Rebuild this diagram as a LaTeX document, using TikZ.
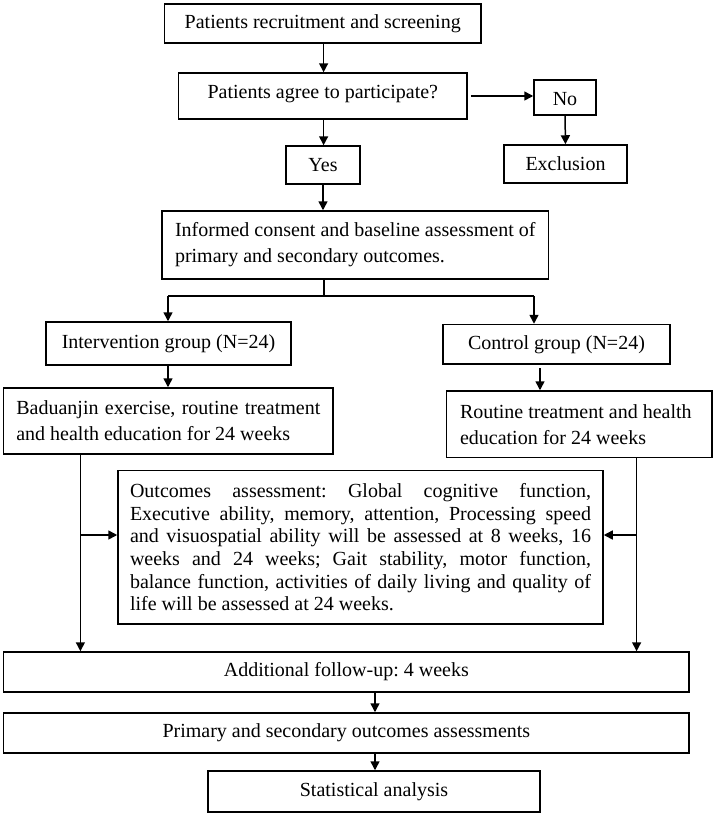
\documentclass[tikz,border=0pt]{standalone}
\usepackage{fontspec}
\setmainfont{Liberation Serif}
\usetikzlibrary{arrows.meta}
\newcommand{\jline}[1]{\makebox[461pt][s]{\spaceskip=0pt\xspaceskip=0pt\relax #1}}
\begin{document}
\begin{tikzpicture}[x=1pt,y=-1pt,
  box/.style={draw, line width=1.5pt, inner sep=0pt, align=flush center,
    font=\fontsize{20}{26}\selectfont\frenchspacing},
  arr/.style={line width=1.5pt, -{Triangle[length=9pt,width=9pt]}},
  ln/.style={line width=1.5pt}]
\useasboundingbox (0,0) rectangle (713,814);
% nodes
\node[box, minimum width=316.5pt, minimum height=39pt] (b1) at (322.75,23.5) {Patients recruitment and screening};
\node[box, minimum width=288.3pt, minimum height=46pt] (b2) at (322.85,96) {Patients agree to participate?\rule[-9pt]{0pt}{0pt}};
\node[box, minimum width=62pt, minimum height=35pt] (no) at (565,97.5) {\rule{0pt}{17pt}No};
\node[box, minimum width=123pt, minimum height=38pt] (excl) at (565.5,164) {Exclusion};
\node[box, minimum width=74pt, minimum height=38pt] (yes) at (323,165) {Yes};
\node[box, minimum width=386.5pt, minimum height=68pt, align=flush left] (cons) at (355.25,245)
  {Informed consent and baseline assessment of\\primary and secondary outcomes.};
\node[box, minimum width=245pt, minimum height=43pt] (int) at (168.5,343.5) {Intervention group (N=24)};
\node[box, minimum width=227pt, minimum height=39.5pt] (ctl) at (556.5,344.25) {Control group (N=24)};
\node[box, minimum width=329.3pt, minimum height=66pt, text width=304pt, align=flush left] (bad) at (168.35,421)
  {\makebox[304pt][s]{\spaceskip=0pt\relax Baduanjin exercise, routine treatment}\\and health education for 24 weeks};
\node[box, minimum width=265.5pt, minimum height=66.5pt, text width=238.5pt, align=flush left] (rout) at (579.25,424.25)
  {Routine treatment and health\\education for 24 weeks};
\node[box, minimum width=485pt, minimum height=153.5pt, text width=461pt, align=flush left,
  font=\fontsize{20}{22.7}\selectfont\frenchspacing] (outc) at (360.5,547.25)
  {\jline{Outcomes assessment: Global cognitive function,}\\
   \jline{Executive ability, memory, attention, Processing speed}\\
   \jline{and visuospatial ability will be assessed at 8 weeks, 16}\\
   \jline{weeks and 24 weeks; Gait stability, motor function,}\\
   \jline{balance function, activities of daily living and quality of}\\
   life will be assessed at 24 weeks.};
\node[box, minimum width=685.3pt, minimum height=40pt] (add) at (346.35,672) {Additional follow-up: 4 weeks};
\node[box, minimum width=685.3pt, minimum height=40pt] (prim) at (346.35,733) {Primary and secondary outcomes assessments};
\node[box, minimum width=332pt, minimum height=41pt] (stat) at (374,791.5) {Statistical analysis};
% helper coordinates
\coordinate (c1) at (323.6,0);
\coordinate (split) at (324,296);
\coordinate (bl) at (168,296);
\coordinate (br) at (534,296);
\coordinate (cr) at (540,368);
\coordinate (L) at (80.4,0);
\coordinate (R) at (636.6,0);
\coordinate (ay) at (0,535);
\coordinate (M) at (375,0);
% connectors
\draw[arr] (c1 |- b1.south) -- (c1 |- b2.north);
\draw[arr] ([xshift=3pt]b2.east) -- (no.west |- b2.east);
\draw[arr] (no.south) -- (excl.north);
\draw[arr] (c1 |- b2.south) -- (c1 |- yes.north);
\draw[arr] (yes.south) -- (cons.north -| yes.south);
\draw[ln] (split |- cons.south) -- (split);
\draw[ln] (bl) -- (br);
\draw[arr] (bl) -- (bl |- int.north);
\draw[arr] (br) -- (br |- ctl.north);
\draw[arr] (int.south -| bl) -- (bl |- bad.north);
\draw[arr] (cr) -- (cr |- rout.north);
\draw[arr] (L |- bad.south) -- (L |- add.north);
\draw[arr] (L |- ay) -- (outc.west |- ay);
\draw[arr] (R |- rout.south) -- (R |- add.north);
\draw[arr] (R |- ay) -- (outc.east |- ay);
\draw[arr] (M |- add.south) -- (M |- prim.north);
\draw[arr] (M |- prim.south) -- (M |- stat.north);
\end{tikzpicture}
\end{document}
